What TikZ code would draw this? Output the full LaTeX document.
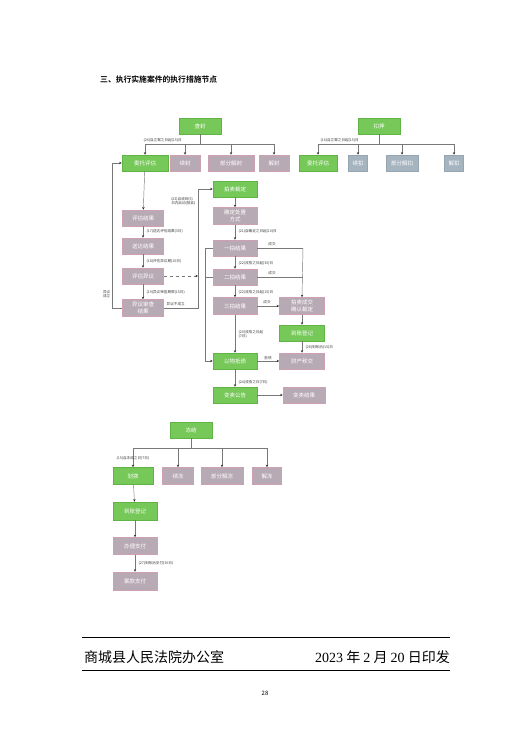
\documentclass[tikz,border=0pt]{standalone}
\usepackage{fontspec}
\newfontfamily\cjk{Noto Sans CJK SC}
\newfontfamily\cjkbold{Noto Sans CJK SC Bold}
\newfontfamily\serifnum{Liberation Serif}
\usetikzlibrary{arrows.meta}
\definecolor{grn}{RGB}{118,200,88}
\definecolor{grnd}{RGB}{96,180,70}
\definecolor{mauve}{RGB}{184,170,180}
\definecolor{mauved}{RGB}{205,160,178}
\definecolor{bgray}{RGB}{166,180,192}
\definecolor{bgrayd}{RGB}{150,165,178}
\definecolor{ln}{RGB}{120,120,120}
\definecolor{tip}{RGB}{40,40,40}
\begin{document}
\begin{tikzpicture}[x=1pt,y=-1pt,
  box/.style={minimum height=16pt,inner sep=0pt,text=white,align=center,
    font=\cjk\fontsize{5.5}{6.5}\selectfont,line width=0.5pt},
  gb/.style={box,fill=grn,draw=grnd},
  pb/.style={box,fill=mauve,draw=mauved},
  bb/.style={box,fill=bgray,draw=bgrayd},
  arr/.style={draw=ln,line width=0.45pt,-{Stealth[length=2.6pt,width=2.4pt,color=tip]}},
  ln/.style={draw=ln,line width=0.45pt},
  lab/.style={font=\cjk\fontsize{3.6}{4.2}\selectfont,text=black!75,inner sep=0.5pt,align=left}]
\useasboundingbox[fill=white] (0,0) rectangle (531,749);

% title
\node[anchor=west,inner sep=0pt,font=\cjkbold\fontsize{7.8}{9}\selectfont] (title) at (100,80) {三、执行实施案件的执行措施节点};

% ---------- section 1: 查封 ----------
\node[gb,minimum width=42pt] (cf) at (200,126) {查封};
\node[gb,minimum width=46pt] (wt1) at (145,163) {委托评估};
\node[pb,minimum width=30pt] (xf) at (185,163) {续封};
\node[pb,minimum width=46pt] (bfjf) at (231,163) {部分解封};
\node[pb,minimum width=30pt] (jf) at (274,163) {解封};
\coordinate (h1L) at (145,144);
\coordinate (h1R) at (274,144);
\draw[ln] (cf) -- (cf|-h1L);
\draw[ln] (h1L) -- (h1R);
\draw[arr] (h1L) -- (wt1);
\draw[arr] (xf|-h1L) -- (xf);
\draw[arr] (bfjf|-h1L) -- (bfjf);
\draw[arr] (h1R) -- (jf);
\node[lab,anchor=south west] (l26) at (143,143) {(26)自立案之日起(15)日};

% ---------- section 2: 扣押 ----------
\node[gb,minimum width=42pt] (kY) at (379,126) {扣押};
\node[gb,minimum width=38pt] (wt2) at (318,163) {委托评估};
\node[bb,minimum width=19pt] (xk) at (358,163) {续扣};
\node[bb,minimum width=32pt] (bfjk) at (402,163) {部分解扣};
\node[bb,minimum width=19pt] (jk) at (454,163) {解扣};
\coordinate (h2L) at (318,144);
\coordinate (h2R) at (454,144);
\draw[ln] (kY) -- (kY|-h2L);
\draw[ln] (h2L) -- (h2R);
\draw[arr] (h2L) -- (wt2);
\draw[arr] (xk|-h2L) -- (xk);
\draw[arr] (bfjk|-h2L) -- (bfjk);
\draw[arr] (h2R) -- (jk);
\node[lab,anchor=south west] (l16) at (320,143) {(16)自立案之日起(15)日};

% ---------- left column ----------
\node[pb,minimum width=41pt] (pgjg) at (143,218) {评估结果};
\node[pb,minimum width=41pt] (sdjg) at (143,246) {送达结果};
\node[pb,minimum width=41pt] (pgyy) at (143,276) {评估异议};
\node[pb,minimum width=41pt,minimum height=17pt] (yysc) at (143,308) {异议审查\\结果};
\draw[arr] (wt1) -- (pgjg);
\draw[arr] (pgjg) -- (sdjg);
\draw[arr] (sdjg) -- (pgyy);
\draw[arr] (pgyy) -- (yysc);
\node[lab,anchor=west] (l17) at (146,231) {(17)送达评估结果(3日)};
\node[lab,anchor=west] (l18) at (146,261) {(18)评估异议期(10日)};
\node[lab,anchor=west] (l19) at (146,292) {(19)异议审查期限(15日)};
\coordinate (lp) at (112,308);
\draw[arr] (yysc.west) -- (lp) |- (wt1.west);
\node[lab,anchor=east] (lyy) at (111,294) {异议\\成立};

% ---------- middle column ----------
\node[gb,minimum width=44pt] (pmcd) at (235,189) {拍卖裁定};
\node[pb,minimum width=44pt,minimum height=17pt] (czfs) at (235,216) {确定处置\\方式};
\node[pb,minimum width=44pt] (yp) at (235,248) {一拍结果};
\node[pb,minimum width=44pt] (ep) at (235,277) {二拍结果};
\node[pb,minimum width=44pt,minimum height=17pt] (sp) at (235,306) {三拍结果};
\node[gb,minimum width=44pt] (ywdz) at (235,361) {以物抵债};
\node[gb,minimum width=44pt] (mggg) at (235,395) {变卖公告};
\node[pb,minimum width=45pt,minimum height=17pt] (cjqr) at (302,306) {拍卖成交\\确认裁定};
\node[gb,minimum width=45pt] (dzdj) at (302,333) {到账登记};
\node[pb,minimum width=45pt] (ccyj) at (302,361) {财产移交};
\node[pb,minimum width=42pt] (mgjg) at (304,395) {变卖结果};

% link from objection results to 拍卖裁定
\coordinate (vb) at (198,308);
\draw[arr] (yysc.east) -- (vb) |- (pmcd.west);
\draw[arr,dashed] (pgyy.east) -- (pgyy.east-|vb);
\node[lab,anchor=south west] (lbcl) at (166,307) {异议不成立};
\node[lab,anchor=east] (l23) at (196,201) {(23)自收到(5)\\日内启动(拍卖)};

\draw[arr] (pmcd) -- (czfs);
\draw[arr] (czfs) -- (yp);
\draw[arr] (yp) -- (ep);
\draw[arr] (ep) -- (sp);
\draw[arr] (sp) -- (ywdz);
\draw[arr] (ywdz) -- (mggg);
\draw[arr] (mggg) -- (mgjg);
\draw[arr] (sp) -- (cjqr);
\draw[arr] (cjqr) -- (dzdj);
\draw[arr] (dzdj) -- (ccyj);
\draw[arr] (ywdz) -- (ccyj);
\node[lab,anchor=west] (l21) at (238,231) {(21)自确定之日起(10)日};
\node[lab,anchor=west] (l22a) at (238,263) {(22)流拍之日起(30)日};
\node[lab,anchor=west] (l22b) at (238,292) {(22)流拍之日起(15)日};
\node[lab,anchor=west] (l20) at (238,334) {(20)流拍之日起\\(7日)};
\node[lab,anchor=west] (l24) at (238,382) {(24)流拍之日(7日)};
\node[lab,anchor=west] (l28) at (305,347) {(28)到账后(15)日};
\node[lab,anchor=south] (lcj3) at (267,305) {成交};
\node[lab,anchor=south] (ldz) at (268,360) {抵债};

% right collector from 一拍 / 二拍
\coordinate (rv) at (303,248);
\draw[ln] (yp.east) -- (rv);
\draw[ln] (ep.east) -- (ep.east-|rv);
\draw[arr] (rv) -- (cjqr.north);
\node[lab,anchor=south] (lcj1) at (272,247) {成交};
\node[lab,anchor=south] (lcj2) at (272,276) {成交};

% left collector from 一拍 / 二拍 to 以物抵债
\coordinate (lv) at (205,361);
\draw[ln] (yp.west) -| (lv);
\draw[ln] (ep.west) -- (ep.west-|lv);
\draw[arr] (lv) -- (ywdz.west);

% ---------- section 3: 冻结 ----------
\node[gb,minimum width=42pt] (dj) at (191,430) {冻结};
\node[gb,minimum width=40pt,minimum height=17pt] (hb) at (133,476) {划拨};
\node[pb,minimum width=31pt,minimum height=17pt] (xd) at (178,476) {续冻};
\node[pb,minimum width=42pt,minimum height=17pt] (bfjd) at (222,476) {部分解冻};
\node[pb,minimum width=29pt,minimum height=17pt] (jd) at (267,476) {解冻};
\coordinate (h3L) at (133,448);
\coordinate (h3R) at (267,448);
\draw[ln] (dj) -- (dj|-h3L);
\draw[ln] (h3L) -- (h3R);
\draw[arr] (h3L) -- (hb);
\draw[arr] (xd|-h3L) -- (xd);
\draw[arr] (bfjd|-h3L) -- (bfjd);
\draw[arr] (h3R) -- (jd);
\node[lab,anchor=west] (l15) at (116,458) {(15)自冻结之日(7日)};
\node[gb,minimum width=44pt,minimum height=18pt] (dzdj2) at (135,511) {到账登记};
\node[pb,minimum width=44pt,minimum height=17pt] (blzf) at (135,546) {办理支付};
\node[pb,minimum width=44pt,minimum height=18pt] (akzf) at (135,581) {案款支付};
\draw[arr] (hb) -- (dzdj2);
\draw[arr] (dzdj2) -- (blzf);
\draw[arr] (blzf) -- (akzf);
\node[lab,anchor=west] (l27) at (138,563) {(27)到账后支付(30日)};

% ---------- footer ----------
\coordinate (f1L) at (82,637);
\coordinate (f1R) at (450,637);
\coordinate (f2L) at (82,670);
\coordinate (f2R) at (450,670);
\draw[line width=0.8pt] (f1L) -- (f1R);
\draw[line width=0.8pt] (f2L) -- (f2R);
\node[anchor=west,inner sep=0pt,font=\cjk\fontsize{14}{16}\selectfont] (off) at (84,657) {商城县人民法院办公室};
\node[anchor=east,inner sep=0pt,font=\cjk\fontsize{14}{16}\selectfont] (date) at (450,657) {{\serifnum 2023} 年 {\serifnum 2} 月 {\serifnum 20} 日印发};
\node[inner sep=0pt,font=\cjk\fontsize{6}{7}\selectfont] (pg) at (265,693) {28};
\end{tikzpicture}
\end{document}
